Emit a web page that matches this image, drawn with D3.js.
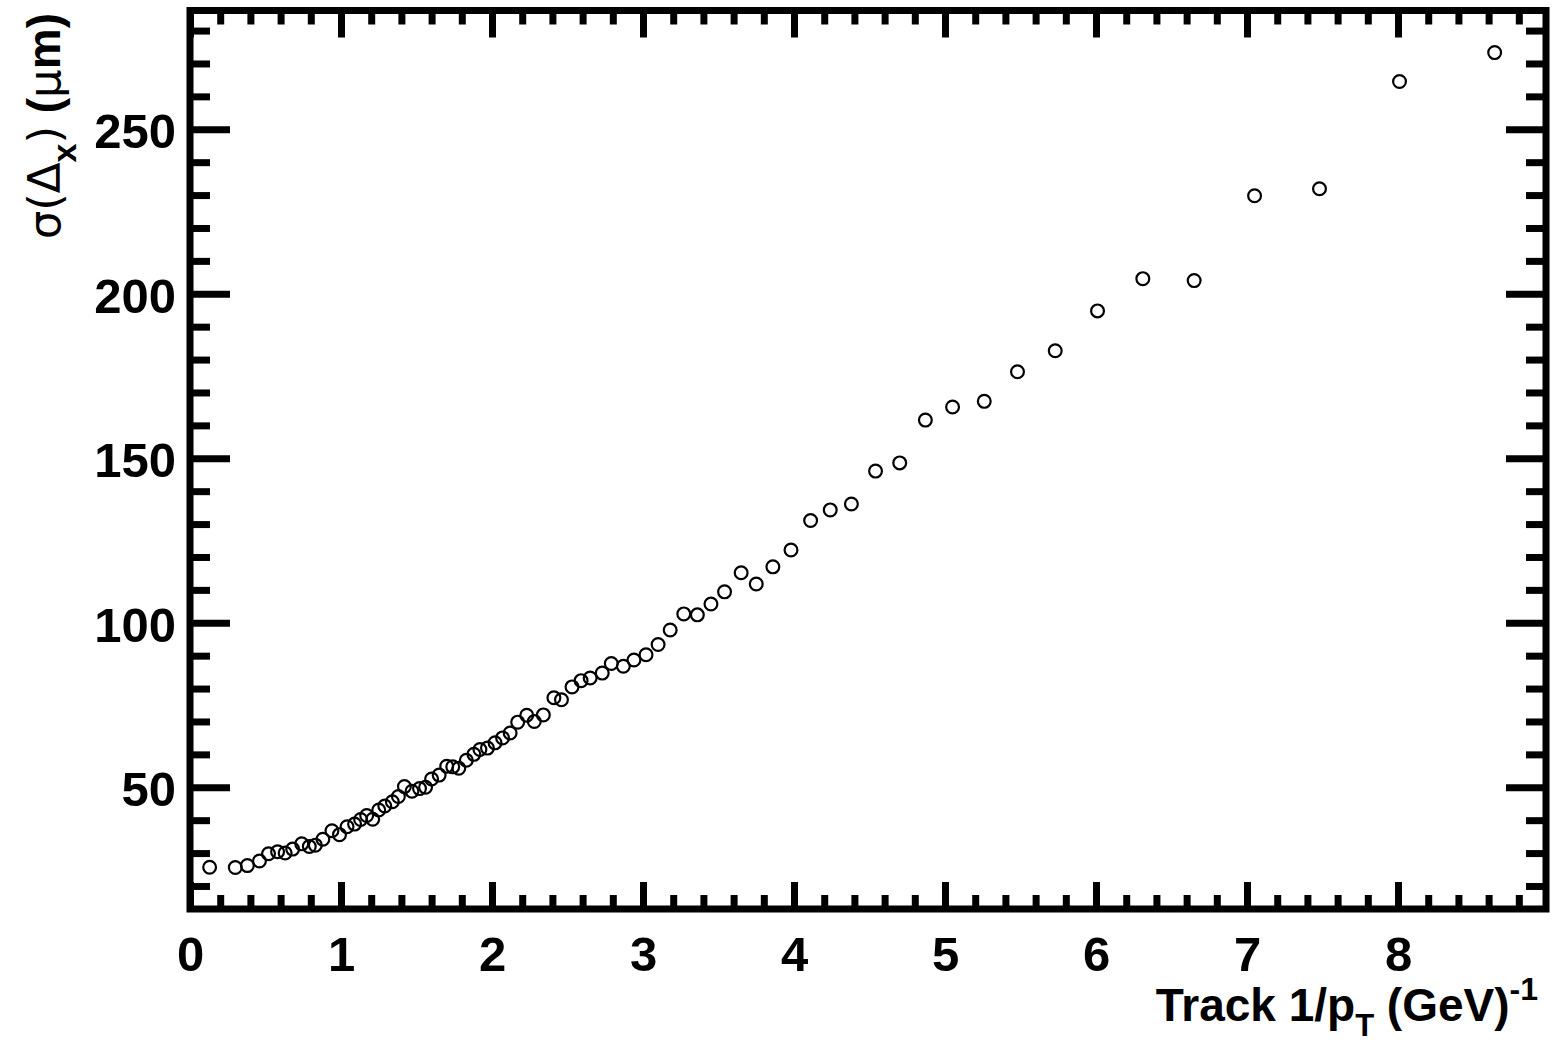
<!DOCTYPE html>
<html>
<head>
<meta charset="utf-8">
<script src="https://cdn.jsdelivr.net/npm/d3@7"></script>
<style>
  body { margin: 0; background: #fff; }
  svg { display: block; }
  .tick line { stroke: #000; stroke-width: 7; }
  .domain { display: none; }
</style>
</head>
<body>
<svg id="chart" width="1554" height="1045"></svg>
<script>
// Track 1/pT (GeV^-1) bin centres
const invPt = [
  0.13, 0.30, 0.38, 0.46, 0.52, 0.58, 0.63, 0.68, 0.74, 0.79,
  0.83, 0.88, 0.94, 0.99, 1.04, 1.09, 1.13, 1.17, 1.21, 1.25,
  1.29, 1.34, 1.38, 1.42, 1.47, 1.52, 1.56, 1.60, 1.65, 1.70,
  1.74, 1.78, 1.83, 1.88, 1.92, 1.97, 2.02, 2.07, 2.12, 2.17,
  2.23, 2.28, 2.34, 2.41, 2.46, 2.53, 2.59, 2.65, 2.73, 2.79,
  2.87, 2.94, 3.02, 3.10, 3.18, 3.27, 3.36, 3.45, 3.54, 3.65,
  3.75, 3.86, 3.98, 4.11, 4.24, 4.38, 4.54, 4.70, 4.87, 5.05,
  5.26, 5.48, 5.73, 6.01, 6.31, 6.65, 7.05, 7.48, 8.01, 8.64
];
// Residual width sigma(Delta_x) in micrometres
const sigmaDx = [
  25.7, 25.6, 26.2, 27.6, 29.8, 30.4, 30.0, 31.2, 32.8, 32.0,
  32.4, 34.2, 36.8, 35.6, 38.0, 38.8, 40.2, 41.4, 40.3, 43.1,
  44.3, 45.6, 47.2, 50.2, 48.8, 49.6, 50.0, 52.5, 53.7, 56.4,
  56.2, 55.8, 58.2, 60.0, 61.5, 61.9, 63.5, 65.0, 66.5, 69.8,
  71.9, 70.0, 72.0, 77.2, 76.6, 80.5, 82.4, 83.2, 84.7, 87.6,
  86.8, 88.7, 90.3, 93.4, 97.8, 102.7, 102.4, 105.7, 109.4, 115.2,
  111.8, 117.0, 122.1, 131.1, 134.3, 136.1, 146.1, 148.6, 161.6, 165.6,
  167.3, 176.3, 182.7, 194.8, 204.6, 204.0, 229.8, 231.9, 264.5, 273.3
];

const xMajorTicks = [0, 1, 2, 3, 4, 5, 6, 7, 8];
const xMajorLabels = ["0", "1", "2", "3", "4", "5", "6", "7", "8"];
const yMajorTicks = [50, 100, 150, 200, 250];
const yMajorLabels = ["50", "100", "150", "200", "250"];

const xDomain = [0, 8.98];
const yDomain = [13, 286.1];

const frame = { left: 190, right: 1546, top: 10.5, bottom: 909 };

const svg = d3.select("#chart");

const x = d3.scaleLinear().domain(xDomain).range([frame.left, frame.right]);
const y = d3.scaleLinear().domain(yDomain).range([frame.bottom, frame.top]);

const xMinor = d3.range(0.2, xDomain[1], 0.2).filter(v => Math.abs(v - Math.round(v)) > 1e-6);
const yMinor = d3.range(20, yDomain[1], 10).filter(v => v % 50 !== 0);

const labelFont = "'Liberation Sans', Arial, Helvetica, sans-serif";

function noLabels(axis) { return axis.tickFormat(() => ""); }

// bottom axis
const gB = svg.append("g").attr("transform", `translate(0,${frame.bottom})`);
gB.append("g").call(noLabels(d3.axisBottom(x).tickValues(xMinor).tickSize(-14)));
gB.append("g").call(
  d3.axisBottom(x).tickValues(xMajorTicks).tickSize(-27)
    .tickFormat((d, i) => xMajorLabels[i])
);
gB.selectAll("text")
  .attr("y", 62).attr("dy", null)
  .attr("font-family", labelFont).attr("font-weight", "bold")
  .attr("font-size", 49).attr("fill", "#000");

// top axis
const gT = svg.append("g").attr("transform", `translate(0,${frame.top})`);
gT.append("g").call(noLabels(d3.axisTop(x).tickValues(xMinor).tickSize(-14)));
gT.append("g").call(noLabels(d3.axisTop(x).tickValues(xMajorTicks).tickSize(-27)));

// left axis
const gL = svg.append("g").attr("transform", `translate(${frame.left},0)`);
gL.append("g").call(noLabels(d3.axisLeft(y).tickValues(yMinor).tickSize(-20)));
gL.append("g").call(
  d3.axisLeft(y).tickValues(yMajorTicks).tickSize(-40)
    .tickFormat((d, i) => yMajorLabels[i])
);
gL.selectAll("text")
  .attr("x", -14).attr("dy", null).attr("y", 18.5)
  .attr("text-anchor", "end")
  .attr("font-family", labelFont).attr("font-weight", "bold")
  .attr("font-size", 49).attr("fill", "#000");

// right axis
const gR = svg.append("g").attr("transform", `translate(${frame.right},0)`);
gR.append("g").call(noLabels(d3.axisRight(y).tickValues(yMinor).tickSize(-20)));
gR.append("g").call(noLabels(d3.axisRight(y).tickValues(yMajorTicks).tickSize(-40)));

// data markers: open circles
svg.append("g")
  .selectAll("circle")
  .data(invPt.map((v, i) => [v, sigmaDx[i]]))
  .join("circle")
  .attr("cx", d => x(d[0]))
  .attr("cy", d => y(d[1]))
  .attr("r", 6.4)
  .attr("fill", "none")
  .attr("stroke", "#000")
  .attr("stroke-width", 2.2);

// frame
svg.append("rect")
  .attr("x", frame.left).attr("y", frame.top)
  .attr("width", frame.right - frame.left)
  .attr("height", frame.bottom - frame.top)
  .attr("fill", "none").attr("stroke", "#000").attr("stroke-width", 7);

// x axis title
const xt = svg.append("text")
  .attr("x", 1538).attr("y", 1021)
  .attr("text-anchor", "end")
  .attr("font-family", labelFont).attr("font-weight", "bold")
  .attr("font-size", 46).attr("fill", "#000");
xt.append("tspan").text("Track 1/p");
xt.append("tspan").attr("font-size", 31).attr("dy", 15).text("T");
xt.append("tspan").attr("dy", -15).text(" (GeV)");
xt.append("tspan").attr("font-size", 32).attr("dy", -21).text("-1");

// y axis title
const yt = svg.append("text")
  .attr("transform", "translate(60,13) rotate(-90)")
  .attr("text-anchor", "end")
  .attr("font-family", labelFont).attr("font-size", 46).attr("fill", "#000");
yt.append("tspan").attr("font-family", "'DejaVu Sans', sans-serif").attr("font-size", 45).text("σ(Δ");
yt.append("tspan").attr("font-weight", "bold").attr("font-size", 34).attr("dy", 16).text("x");
yt.append("tspan").attr("font-family", "'DejaVu Sans', sans-serif").attr("font-size", 45).attr("dy", -16).text(")");
yt.append("tspan").attr("font-weight", "bold").text(" (");
yt.append("tspan").attr("font-family", "'DejaVu Sans', sans-serif").attr("font-size", 45).text("μ");
yt.append("tspan").attr("font-weight", "bold").text("m)");
</script>
</body>
</html>
